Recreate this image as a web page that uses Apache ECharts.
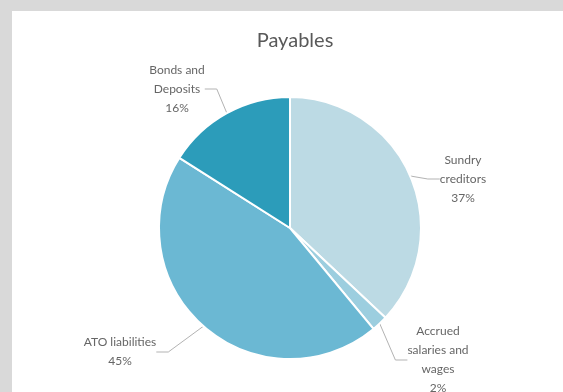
<!DOCTYPE html>
<html>
<head>
<meta charset="utf-8">
<script src="https://cdn.jsdelivr.net/npm/echarts@6/dist/echarts.min.js"></script>
<style>
  html, body { margin: 0; padding: 0; background: #d9d9d9; }
  #chart { width: 563px; height: 392px; }
</style>
</head>
<body>
<div id="chart"></div>
<script>
// Payables breakdown (percent of total)
const categories = ['Sundry creditors', 'Accrued salaries and wages', 'ATO liabilities', 'Bonds and Deposits'];
const shares = [37, 2, 45, 16];
// Wrapped label text for each slice
const labelLines = [
  ['Sundry', 'creditors'],
  ['Accrued', 'salaries and', 'wages'],
  ['ATO liabilities'],
  ['Bonds and', 'Deposits']
];

const sliceColors = ['#bcdae4', '#9ccedf', '#6bb8d3', '#2c9cba'];
// Label anchor points (label block centres)
const labelSpots = [
  [463, 179],
  [438, 360],
  [120, 352],
  [177, 89]
];

const chart = echarts.init(document.getElementById('chart'));

chart.setOption({
  backgroundColor: '#d9d9d9',
  animation: false,
  graphic: [{
    type: 'rect',
    shape: { x: 12, y: 11, width: 551, height: 381 },
    style: { fill: '#ffffff' },
    z: -10
  }],
  title: {
    text: 'Payables',
    left: 290,
    top: 26,
    textAlign: 'center',
    textStyle: { fontFamily: 'Lato', fontSize: 20, fontWeight: 'normal', color: '#595959' }
  },
  series: [{
    type: 'pie',
    center: [290, 228],
    radius: 131,
    startAngle: 90,
    clockwise: true,
    data: categories.map((name, i) => ({
      name: name,
      value: shares[i],
      itemStyle: { color: sliceColors[i] },
      label: {
        formatter: labelLines[i].join('\n') + '\n' + shares[i] + '%'
      }
    })),
    itemStyle: { borderColor: '#ffffff', borderWidth: 2 },
    label: {
      show: true,
      position: 'outside',
      fontFamily: 'Lato',
      fontSize: 12,
      lineHeight: 19,
      color: '#666666',
      align: 'center'
    },
    labelLine: {
      show: true,
      length: 12,
      length2: 12,
      lineStyle: { color: '#b3b3b3', width: 1 }
    },
    labelLayout: function (params) {
      const p = labelSpots[params.dataIndex];
      return { x: p[0], y: p[1], align: 'center', verticalAlign: 'middle' };
    },
    emphasis: { disabled: true }
  }]
});
</script>
</body>
</html>
